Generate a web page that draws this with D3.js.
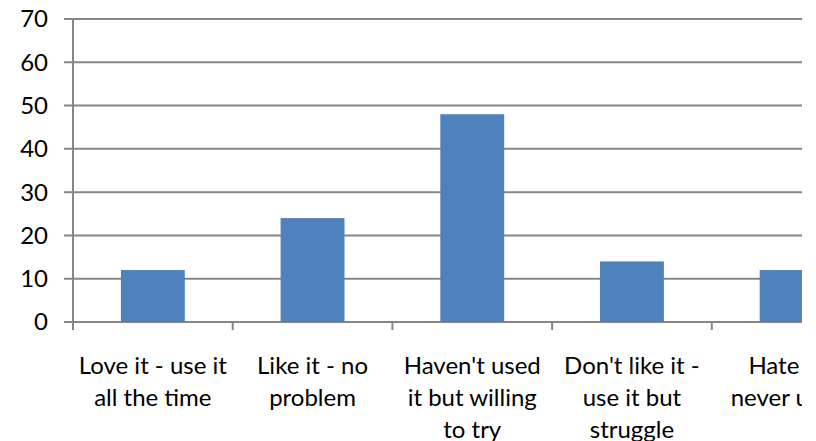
<!DOCTYPE html>
<html>
<head>
<meta charset="utf-8">
<script src="https://cdn.jsdelivr.net/npm/d3@7"></script>
<style>
  body { margin: 0; background: #fff; }
  svg text { font-family: Lato, "Open Sans", sans-serif; fill: #000; }
</style>
</head>
<body>
<svg></svg>
<script>
var categories = [
    "Love it - use it all the time",
    "Like it - no problem",
    "Haven't used it but willing to try",
    "Don't like it - use it but struggle",
    "Hate it - never use it"
];
var labelLines = [
    ["Love it - use it", "all the time"],
    ["Like it - no", "problem"],
    ["Haven't used", "it but willing", "to try"],
    ["Don't like it -", "use it but", "struggle"],
    ["Hate it -", "never use it"]
];
var values = [12, 24, 48, 14, 12];
var yTicks = [0, 10, 20, 30, 40, 50, 60, 70];

var svgCanvas = d3.select("svg")
    .attr("width", 816)
    .attr("height", 441);

// the chart runs off the right edge, so clip it like the picture
svgCanvas.append("clipPath").attr("id", "cut")
    .append("rect").attr("x", 0).attr("y", 0).attr("width", 802).attr("height", 441);

var g = svgCanvas.append("g").attr("clip-path", "url(#cut)");

var plotLeft = 73, plotTop = 19, plotBottom = 322;
var step = 159.7;

var x = d3.scaleBand()
    .domain(categories)
    .range([plotLeft, plotLeft + step * categories.length])
    .paddingInner(0.6)
    .paddingOuter(0.3);

var y = d3.scaleLinear()
    .domain([0, 70])
    .range([plotBottom, plotTop]);

var grey = "#868686";

// gridlines
g.selectAll("line.grid")
    .data(yTicks).enter()
    .append("line")
    .attr("class", "grid")
    .attr("x1", plotLeft - 9)
    .attr("x2", plotLeft + step * categories.length)
    .attr("y1", function(d){ return y(d); })
    .attr("y2", function(d){ return y(d); })
    .attr("stroke", grey)
    .attr("stroke-width", 2);

// y axis line
g.append("line")
    .attr("x1", plotLeft).attr("x2", plotLeft)
    .attr("y1", y(70) - 1).attr("y2", plotBottom + 8)
    .attr("stroke", grey).attr("stroke-width", 2);

// category ticks
var edges = d3.range(categories.length + 1).map(function(i){ return plotLeft + i * x.step(); });
g.selectAll("line.ctick")
    .data(edges).enter()
    .append("line")
    .attr("class", "ctick")
    .attr("x1", function(d){ return d; })
    .attr("x2", function(d){ return d; })
    .attr("y1", plotBottom)
    .attr("y2", plotBottom + 8)
    .attr("stroke", grey)
    .attr("stroke-width", 2);

// bars
g.selectAll("rect.bar")
    .data(values).enter()
    .append("rect")
    .attr("class", "bar")
    .attr("x", function(d, i){ return x(categories[i]); })
    .attr("width", x.bandwidth())
    .attr("y", function(d){ return y(d); })
    .attr("height", function(d){ return plotBottom - y(d); })
    .attr("fill", "#4F81BD");

// y labels
g.selectAll("text.ylab")
    .data(yTicks).enter()
    .append("text")
    .attr("class", "ylab")
    .attr("x", 48)
    .attr("y", function(d){ return y(d); })
    .attr("dy", "0.35em")
    .attr("text-anchor", "end")
    .attr("font-size", 24)
    .text(function(d){ return d; });

// category labels
var labels = g.selectAll("text.clab")
    .data(categories).enter()
    .append("text")
    .attr("class", "clab")
    .attr("text-anchor", "middle")
    .attr("font-size", 24);

labels.each(function(d, i){
    var t = d3.select(this);
    labelLines[i].forEach(function(line, j){
        t.append("tspan")
            .attr("x", x(d) + x.bandwidth() / 2)
            .attr("y", 374 + j * 32)
            .text(line);
    });
});
</script>
</body>
</html>
